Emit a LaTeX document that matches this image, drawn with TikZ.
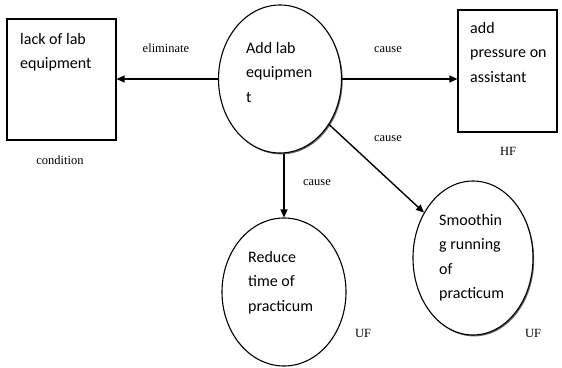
\documentclass[tikz,border=0pt]{standalone}
\usepackage{fontspec}
\setmainfont{Carlito}
\newfontfamily\lblfont{Liberation Serif}
\usetikzlibrary{shapes.geometric,arrows.meta,shadows}
\begin{document}
\begin{tikzpicture}[x=1pt,y=-1pt,
  box/.style={draw,line width=1.1pt,rectangle,minimum width=#1,inner sep=0pt},
  oval/.style={draw,line width=1.1pt,ellipse,inner sep=0pt,fill=white},
  shad/.style={drop shadow={shadow xshift=1.2pt,shadow yshift=-1.4pt,fill=black!75,opacity=0.8}},
  txt/.style={anchor=base west,align=left,inner sep=0pt,font=\fontsize{16}{24.5}\selectfont},
  lbl/.style={inner sep=0pt,font=\lblfont\fontsize{12.5}{14}\selectfont},
  arr/.style={line width=1.4pt,-{Triangle[length=8pt,width=7pt]}}]
\useasboundingbox (0,0) rectangle (562,367);
% shapes
\node[box=109pt,minimum height=121pt] (lb) at (61.5,79.5) {};
\node[box=99pt,minimum height=122pt] (rb) at (507.5,71) {};
\node[oval,shad,minimum width=123pt,minimum height=148pt] (c) at (280,79) {};
\node[oval,minimum width=124pt,minimum height=148pt] (r) at (284,292) {};
\node[oval,shad,minimum width=120pt,minimum height=154pt] (s) at (473,258) {};
% texts (anchored at the baseline of the last line)
\node[txt] (lbt) at (20,68.5) {lack of lab\\equipment};
\node[txt] (rbt) at (470,82) {add\\pressure on\\assistant};
\node[txt] (ct) at (246,102) {Add lab\\equipmen\\t};
\node[txt] (rt) at (248,311) {Reduce\\time of\\practicum};
\node[txt] (st) at (439,298.5) {Smoothin\\g running\\of\\practicum};
% connectors
\draw[arr] (c.west) -- (c.west -| lb.east);
\draw[arr] (c.east) -- (c.east -| rb.west);
\draw[arr] (r.north |- c.south) -- (r.north);
\draw[arr] (c) -- (s);
% labels
\node[lbl] (l1) at (166,48) {eliminate};
\node[lbl] (l2) at (388,50) {cause};
\node[lbl] (l3) at (388,139) {cause};
\node[lbl] (l4) at (317,183) {cause};
\node[lbl] (l5) at (60,160) {condition};
\node[lbl] (l6) at (508,151) {HF};
\node[lbl] (l7) at (363,333) {UF};
\node[lbl] (l8) at (533,333) {UF};
\end{tikzpicture}
\end{document}
